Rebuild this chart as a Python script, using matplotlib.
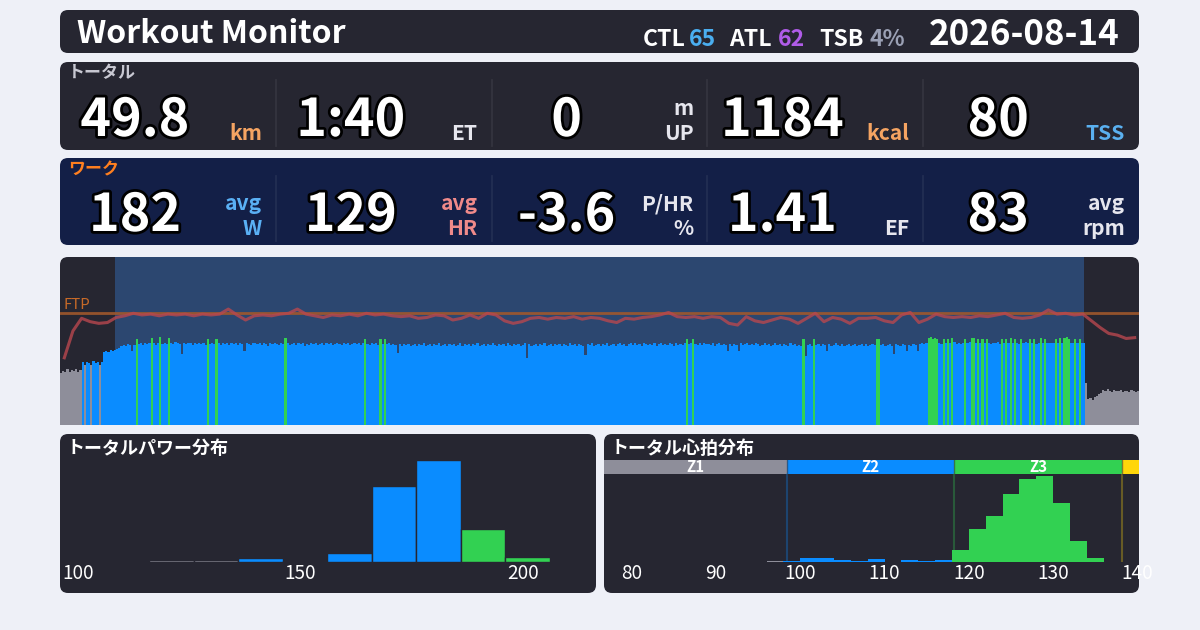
import numpy as np
import matplotlib
matplotlib.use("Agg")
import matplotlib.pyplot as plt
from matplotlib.patches import FancyBboxPatch
import matplotlib.patheffects as pe

plt.rcParams['font.family'] = ['Noto Sans CJK JP', 'DejaVu Sans']

# ---------------- data ----------------
TITLE = "Workout Monitor"
DATE = "2026-08-14"
CTL, ATL, TSB = "65", "62", "4%"

total_values = ["49.8", "1:40", "0", "1184", "80"]
total_units = ["km", "ET", "m\nUP", "kcal", "TSS"]
work_values = ["182", "129", "-3.6", "1.41", "83"]
work_units = ["avg\nW", "avg\nHR", "P/HR\n%", "EF", "avg\nrpm"]

FTP = 250
POWER_ZONES = [136, 187]          # Z1 | Z2 | Z3 boundaries (W)
WORK_START_MIN, WORK_END_MIN = 5.1, 94.9
DURATION_MIN = 100
POWER_STEP_MIN = 0.2
HR_STEP_MIN = 0.8

power = [
    117, 121, 119, 124, 118, 122, 120, 125, 119, 123,
    140, 134, 141, 139, 133, 142, 138, 141, 135, 140,
    163, 166, 162, 167, 165, 168, 170, 172, 176, 178,
    177, 180, 178, 166, 179, 193, 181, 183, 179, 182,
    180, 184, 194, 182, 179, 183, 196, 181, 184, 180,
    195, 183, 181, 185, 182, 180, 158, 184, 181, 183,
    182, 179, 184, 181, 183, 180, 182, 178, 193, 181,
    183, 180, 192, 182, 179, 184, 181, 183, 178, 182,
    181, 184, 179, 182, 180, 165, 183, 181, 178, 182,
    184, 180, 182, 179, 183, 181, 177, 182, 180, 184,
    181, 179, 183, 180, 194, 182, 178, 181, 184, 179,
    182, 180, 183, 177, 181, 179, 184, 180, 182, 178,
    181, 183, 179, 182, 180, 184, 178, 181, 183, 180,
    179, 182, 180, 183, 178, 181, 184, 180, 182, 179,
    183, 192, 181, 179, 182, 180, 183, 178, 193, 181,
    191, 180, 182, 178, 181, 179, 160, 180, 177, 181,
    178, 180, 176, 179, 181, 177, 180, 178, 182, 176,
    179, 181, 177, 180, 178, 182, 176, 179, 180, 177,
    181, 178, 180, 176, 179, 182, 177, 180, 178, 181,
    177, 180, 178, 182, 176, 179, 181, 177, 180, 178,
    182, 179, 177, 181, 178, 180, 176, 182, 179, 177,
    180, 178, 181, 177, 179, 182, 150, 180, 177, 179,
    181, 176, 180, 178, 182, 177, 179, 181, 176, 180,
    178, 181, 177, 180, 179, 176, 182, 178, 180, 177,
    181, 179, 177, 156, 180, 178, 182, 176, 179, 181,
    177, 180, 178, 182, 176, 179, 181, 177, 180, 183,
    179, 181, 177, 180, 182, 178, 183, 179, 181, 177,
    182, 180, 178, 181, 179, 183, 177, 180, 182, 179,
    181, 178, 183, 180, 177, 182, 179, 181, 178, 182,
    192, 180, 183, 193, 181, 179, 182, 178, 184, 180,
    181, 179, 183, 177, 180, 182, 178, 181, 179, 165,
    180, 177, 181, 179, 165, 182, 178, 180, 183, 179,
    181, 178, 182, 180, 177, 179, 183, 178, 181, 176,
    179, 182, 178, 180, 176, 181, 179, 177, 182, 178,
    180, 177, 179, 176, 191, 155, 178, 180, 177, 192,
    179, 181, 177, 180, 178, 165, 181, 177, 179, 182,
    178, 176, 180, 177, 179, 181, 176, 178, 180, 177,
    179, 181, 177, 180, 176, 178, 181, 179, 193, 192,
    178, 180, 177, 179, 181, 176, 158, 180, 178, 177,
    180, 178, 165, 179, 177, 181, 178, 165, 180, 182,
    181, 184, 194, 196, 193, 195, 192, 183, 181, 193,
    184, 192, 182, 194, 185, 181, 183, 180, 184, 193,
    182, 185, 195, 194, 183, 192, 184, 193, 183, 192,
    183, 181, 184, 182, 185, 180, 193, 183, 192, 184,
    194, 182, 193, 184, 181, 192, 183, 185, 182, 193,
    184, 192, 181, 183, 194, 182, 193, 184, 182, 183,
    182, 193, 184, 195, 183, 194, 196, 193, 182, 184,
    192, 183, 193, 182, 184, 94, 58, 60, 56, 62,
    64, 70, 72, 78, 76, 80, 77, 74, 79, 76,
    75, 78, 73, 77, 76, 74, 78, 75, 73, 76,
]

heart_rate = [
    80, 112, 127, 123, 121, 122, 128, 130, 133, 131,
    132, 130, 132, 131, 132, 130, 132, 131, 132, 138,
    131, 125, 130, 131, 130, 132, 133, 138, 132, 130,
    128, 131, 130, 132, 130, 133, 131, 132, 130, 129,
    130, 127, 128, 131, 130, 125, 127, 131, 127, 133,
    131, 124, 121, 123, 127, 128, 126, 128, 127, 129,
    126, 128, 127, 124, 122, 127, 126, 128, 129, 131,
    134, 129, 128, 129, 127, 129, 128, 121, 119, 129,
    124, 122, 125, 128, 126, 121, 127, 133, 123, 128,
    126, 121, 127, 127, 128, 124, 122, 131, 134, 122,
    126, 132, 129, 128, 129, 128, 130, 129, 131, 133,
    128, 127, 128, 131, 137, 132, 133, 131, 132, 124,
    116, 109, 107, 103, 104,
]

# power distribution (10 W bins, minutes)
pw_bin_left = [116, 126, 136, 146, 156, 166, 176, 186, 196]
pw_minutes = [0.7, 0.7, 1.6, 0.4, 3.8, 32.7, 43.9, 14.1, 2.0]
pw_ticks = [100, 150, 200]

# heart-rate distribution (2 bpm bins, minutes)
hr_bin_left = [96, 98, 100, 102, 104, 106, 108, 110, 112, 114,
               116, 118, 120, 122, 124, 126, 128, 130, 132, 134]
hr_minutes = [0.2, 0.2, 0.9, 0.9, 0.4, 0.2, 0.6, 0.0, 0.4, 0.2,
              0.4, 2.7, 7.6, 10.7, 15.8, 19.4, 20.0, 13.8, 4.8, 0.9]
hr_zone_edges = [76.7, 98.4, 118.3, 138.2, 150.0]
hr_zone_names = ["Z1", "Z2", "Z3", "Z4"]
hr_ticks = [80, 90, 100, 110, 120, 130, 140]

# ---------------- style ----------------
PAGE = "#eef0f7"
DARK = "#262631"
NAVY = "#131f47"
WORKBG = "#2c4770"
GRAY = "#8e8e9a"
BLUE = "#0a8cff"
GREEN = "#32d152"
YELLOW = "#ffd60a"
zone_cols = [GRAY, BLUE, GREEN, YELLOW]

W, H = 1200, 630
fig = plt.figure(figsize=(12, 6.3), dpi=100, facecolor=PAGE)
bg = fig.add_axes([0, 0, 1, 1])
bg.set_xlim(0, W)
bg.set_ylim(H, 0)
bg.axis("off")


def pt(px):
    return px * 72 / 100


def panel(x0, y0, x1, y1, color, r=8):
    p = FancyBboxPatch((x0, y0), x1 - x0, y1 - y0,
                       boxstyle=f"round,pad=0,rounding_size={r}",
                       fc=color, ec="none", zorder=0)
    bg.add_patch(p)
    return p


def txt(x, y, s, px, color="white", ha="left", va="baseline", weight="bold", **kw):
    return bg.text(x, y, s, fontsize=pt(px), color=color, ha=ha, va=va,
                   fontweight=weight, zorder=5, **kw)


def fax(x0, y0, x1, y1):
    return fig.add_axes([x0 / W, 1 - y1 / H, (x1 - x0) / W, (y1 - y0) / H])


# ---------------- header ----------------
panel(60, 10, 1139, 53, DARK)
txt(77, 43, TITLE, 32)
renderer = fig.canvas.get_renderer()
txt(1120, 45, DATE, 35, ha="right")
# (text, colour, gap to the piece on its left)
items = [("CTL", "white", 0), (CTL, "#4aaef0", 4), ("ATL", "white", 13),
         (ATL, "#b05ce8", 6), ("TSB", "white", 14), (TSB, "#9aa0b4", 6)]
x = 905
for s, c, gap in reversed(items):
    t = txt(x, 46, s, 23, color=c, ha="right")
    bb = t.get_window_extent(renderer)
    x = x - bb.width - gap

# ---------------- metric rows ----------------
rows = [
    (62, 150, DARK, "トータル", "#c8c8d2", total_values, total_units,
     ["#f5a462", "#e6e6ee", "#e6e6ee", "#f5a462", "#5ab0f0"]),
    (158, 245, NAVY, "ワーク", "#ff7f1f", work_values, work_units,
     ["#5ab0f5", "#f08a8a", "#e6e6ee", "#e6e6ee", "#e6e6ee"]),
]
cell_w = (1139 - 60) / 5
for (y0, y1, col, title, tcol, vals, units, ucols) in rows:
    panel(60, y0, 1139, y1, col)
    txt(68, y0 + 2, title, 17, color=tcol, va="top")
    for i in range(5):
        cx0 = 60 + cell_w * i
        if i > 0:
            bg.plot([cx0, cx0], [y0 + 18, y1 - 4], color="#ffffff", alpha=0.07,
                    lw=1.2, zorder=2)
        txt(cx0 + 75, y1 - 14, vals[i], 52, ha="center",
            path_effects=[pe.withStroke(linewidth=4, foreground="black")])
        lines = units[i].split("\n")
        for k, ln in enumerate(reversed(lines)):
            txt(cx0 + cell_w - 14, y1 - 10 - 25 * k, ln, 21, color=ucols[i], ha="right")

# ---------------- time series ----------------
panel(60, 257, 1139, 425, DARK, r=8)
clip = FancyBboxPatch((60, 257), 1079, 200, boxstyle="round,pad=0,rounding_size=8",
                      transform=bg.transData)
ax = fax(60, 257, 1139, 425)
ax.set_facecolor("none")
ax.set_xlim(0, DURATION_MIN)
ax.set_ylim(0, FTP * 1.5)
ax.axis("off")
sp = ax.axvspan(WORK_START_MIN, WORK_END_MIN, color=WORKBG, lw=0, zorder=1)
sp.set_clip_path(clip)
pw = np.array(power)
t_pw = (np.arange(len(pw)) + 0.5) * POWER_STEP_MIN
pcol = [GRAY if v < POWER_ZONES[0] else (BLUE if v < POWER_ZONES[1] else GREEN) for v in pw]
ax.bar(t_pw, pw, width=POWER_STEP_MIN, color=pcol, lw=0, zorder=2)
ax.axhline(FTP, color="#a0582c", lw=2, alpha=0.9, zorder=3)
ax.text(0.35, FTP + 10, "FTP", color="#c86a28", fontsize=pt(15), zorder=4)
ax2 = ax.twinx()
ax2.set_ylim(0, 200)
ax2.axis("off")
hr = np.array(heart_rate)
t_hr = (np.arange(len(hr)) + 0.5) * HR_STEP_MIN
ax2.plot(t_hr, hr, color="#b8474f", lw=2.2, alpha=0.8, zorder=5)

# ---------------- power histogram ----------------
panel(60, 434, 596, 593, DARK)
txt(67, 449, "トータルパワー分布", 18, va="center")
hx = fax(60, 458, 596, 562)
hx.set_facecolor("none")
hx.set_xlim(96, 216.4)
hx.set_ylim(0, max(pw_minutes) * 1.02)
hcol = [GRAY if b + 5 < POWER_ZONES[0] else (BLUE if b + 5 < POWER_ZONES[1] else GREEN)
        for b in pw_bin_left]
hx.bar(pw_bin_left, pw_minutes, width=10, align="edge", color=hcol,
       edgecolor=DARK, lw=1)
for s in hx.spines.values():
    s.set_visible(False)
hx.set_yticks([])
hx.set_xticks(pw_ticks)
hx.tick_params(axis="x", length=0, colors="white", labelsize=pt(19), pad=1)

# ---------------- heart-rate histogram ----------------
panel(604, 434, 1139, 593, DARK)
txt(611, 449, "トータル心拍分布", 18, va="center")
gx = fax(604, 460, 1139, 562)
gx.set_facecolor("none")
xl = (76.7, 140.2)
gx.set_xlim(*xl)
gx.set_ylim(0, max(hr_minutes) * 1.19)
band_lo = 88 / 102
for k in range(4):
    lo, hi = hr_zone_edges[k], min(hr_zone_edges[k + 1], xl[1])
    gx.axvspan(lo, hi, ymin=band_lo, ymax=1, color=zone_cols[k], lw=0)
    if k > 0:
        gx.axvline(lo, ymin=0, ymax=band_lo, color=zone_cols[k], alpha=0.3, lw=1.5)
        gx.axvline(lo, ymin=band_lo, ymax=1, color="#3a3a40", alpha=0.6, lw=1)
    if hi - lo > 5:
        gx.text((lo + hi) / 2, 1 - (1 - band_lo) / 2, hr_zone_names[k],
                transform=gx.get_xaxis_transform(), ha="center", va="center",
                color="white", fontweight="bold", fontsize=pt(15))
gcol = []
for b in hr_bin_left:
    c = b + 1
    for k in range(4):
        if hr_zone_edges[k] <= c < hr_zone_edges[k + 1]:
            gcol.append(zone_cols[k])
            break
gx.bar(hr_bin_left, hr_minutes, width=2, align="edge", color=gcol, lw=0)
for s in gx.spines.values():
    s.set_visible(False)
gx.set_yticks([])
gx.set_xticks(hr_ticks)
gx.tick_params(axis="x", length=0, colors="white", labelsize=pt(19), pad=1)

fig.savefig("out.png", dpi=100, facecolor=PAGE)
